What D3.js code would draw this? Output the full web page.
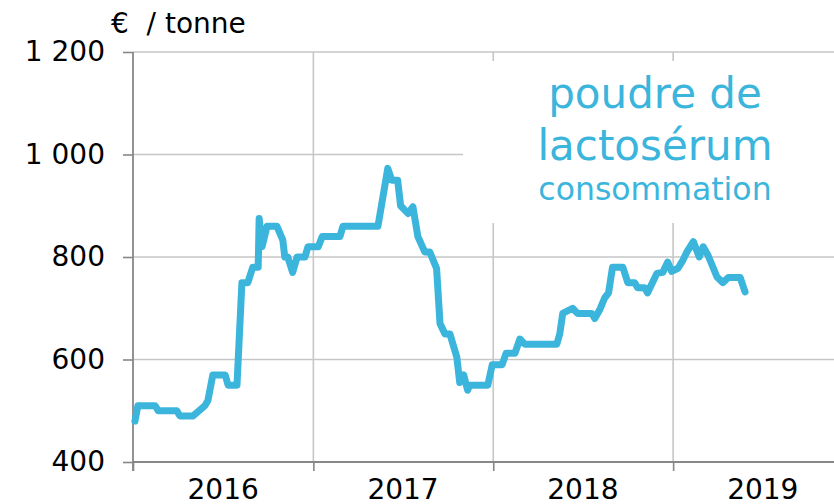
<!DOCTYPE html>
<html>
<head>
<meta charset="utf-8">
<script src="https://cdn.jsdelivr.net/npm/d3@7"></script>
<style>
  body { margin: 0; background: #fff; }
  svg { display: block; font-family: "DejaVu Sans", Verdana, sans-serif; }
</style>
</head>
<body>
<div id="chart"></div>
<script>
//
// data
//
var dates = [
  '2016-01-05', '2016-01-11', '2016-02-15', '2016-02-21', '2016-03-30', '2016-04-05',
  '2016-05-02', '2016-05-26', '2016-06-01', '2016-06-11', '2016-07-06', '2016-07-12',
  '2016-07-30', '2016-08-09', '2016-08-21', '2016-08-31', '2016-09-11', '2016-09-13',
  '2016-09-19', '2016-09-29', '2016-10-19', '2016-10-31', '2016-11-04', '2016-11-10',
  '2016-11-20', '2016-11-29', '2016-12-15', '2016-12-21',
  '2017-01-11', '2017-01-19', '2017-02-24', '2017-03-02', '2017-05-12', '2017-06-01',
  '2017-06-09', '2017-06-21', '2017-06-27', '2017-07-12', '2017-07-22', '2017-08-01',
  '2017-08-15', '2017-08-25', '2017-09-08', '2017-09-15', '2017-09-25', '2017-10-05',
  '2017-10-19', '2017-10-25', '2017-11-02', '2017-11-10', '2017-11-14', '2017-12-21',
  '2017-12-30',
  '2018-01-19', '2018-01-27', '2018-02-14', '2018-02-24', '2018-03-06', '2018-05-10',
  '2018-05-16', '2018-05-22', '2018-06-11', '2018-06-21', '2018-07-20', '2018-07-26',
  '2018-08-05', '2018-08-15', '2018-08-23', '2018-08-31', '2018-09-21', '2018-10-01',
  '2018-10-15', '2018-10-21', '2018-11-04', '2018-11-10', '2018-11-29', '2018-12-11',
  '2018-12-21', '2018-12-29',
  '2019-01-11', '2019-01-21', '2019-01-29', '2019-02-11', '2019-02-23', '2019-03-03',
  '2019-03-13', '2019-03-31', '2019-04-12', '2019-04-23', '2019-05-17', '2019-05-27'
]
var prices = [
  480, 510, 510, 500, 500, 490,
  490, 510, 520, 570, 570, 550,
  550, 750, 750, 780, 780, 875,
  820, 860, 860, 833, 800, 800,
  770, 800, 800, 820,
  820, 840, 840, 860, 860, 973,
  950, 950, 900, 885, 898, 840,
  810, 810, 778, 670, 650, 650,
  605, 555, 570, 540, 550, 550,
  590,
  590, 612, 612, 640, 630, 630,
  650, 690, 700, 690, 690, 680,
  697, 720, 730, 780, 780, 750,
  750, 740, 740, 730, 768, 770,
  790, 772,
  778, 794, 810, 830, 800, 820,
  803, 761, 750, 760, 760, 732
]
var years = [2016, 2017, 2018, 2019]
var yTicks = [400, 600, 800, 1000, 1200]
var unitLabel = '€  / tonne'
var titleLines = ['poudre de', 'lactosérum']
var subtitle = 'consommation'
//
// layout
//
var width = 834, height = 504
var plotLeft = 133, plotTop = 52, plotBottom = 462
var blue = '#3bb5dc'
var axisColor = '#878787'
var gridColor = '#c6c6c6'

var parse = d3.timeParse('%Y-%m-%d')
var data = dates.map(function(d, i) { return {date: parse(d), value: prices[i]} })

var x = d3.scaleTime()
  .domain([new Date(2016, 0, 1), new Date(2020, 0, 1)])
  .range([plotLeft, plotLeft + 4 * 180])
var y = d3.scaleLinear()
  .domain([400, 1200])
  .range([plotBottom, plotTop])

var svg = d3.select('#chart').append('svg')
  .attr('width', width)
  .attr('height', height)

// gridlines
var yearStarts = years.map(function(yr) { return new Date(yr, 0, 1) })
svg.append('g').selectAll('line')
  .data(yTicks.slice(1))
  .enter().append('line')
  .attr('x1', plotLeft).attr('x2', width)
  .attr('y1', function(d) { return y(d) }).attr('y2', function(d) { return y(d) })
  .attr('stroke', gridColor).attr('stroke-width', 1.6)
svg.append('g').selectAll('line')
  .data(yearStarts.slice(1))
  .enter().append('line')
  .attr('x1', function(d) { return x(d) }).attr('x2', function(d) { return x(d) })
  .attr('y1', plotTop).attr('y2', plotBottom)
  .attr('stroke', gridColor).attr('stroke-width', 1.6)

// white box behind the title
svg.append('rect')
  .attr('x', 463).attr('y', 61)
  .attr('width', width - 463).attr('height', 162)
  .attr('fill', '#fff')

// axes
var fmt = d3.formatLocale({decimal: ',', thousands: ' ', grouping: [3], currency: ['', ' €']}).format(',')
var yAxis = svg.append('g')
  .attr('transform', 'translate(' + plotLeft + ',0)')
  .call(d3.axisLeft(y).tickValues(yTicks).tickFormat(fmt).tickSize(10).tickPadding(18))
yAxis.select('.domain').remove()
yAxis.selectAll('line').attr('stroke', axisColor).attr('stroke-width', 1.6)
yAxis.selectAll('text')
  .attr('fill', '#000')
  .style('font-size', '28px')
  .style('font-family', '"DejaVu Sans", Verdana, sans-serif')

svg.append('line')
  .attr('x1', plotLeft).attr('x2', plotLeft)
  .attr('y1', plotTop).attr('y2', plotBottom + 9)
  .attr('stroke', axisColor).attr('stroke-width', 1.8)

var xAxis = svg.append('g')
  .attr('transform', 'translate(0,' + plotBottom + ')')
  .call(d3.axisBottom(x).tickValues(yearStarts).tickFormat('').tickSize(9).tickSizeOuter(0))
xAxis.select('.domain').attr('stroke', axisColor).attr('stroke-width', 1.8)
  .attr('d', 'M' + plotLeft + ',0H' + width)
xAxis.selectAll('line').attr('stroke', axisColor).attr('stroke-width', 1.6)

svg.append('g').selectAll('text')
  .data(years)
  .enter().append('text')
  .attr('x', function(d) { return x(new Date(d, 6, 2)) })
  .attr('y', 499)
  .attr('text-anchor', 'middle')
  .style('font-size', '28px')
  .text(function(d) { return d })

// unit
svg.append('text')
  .attr('x', 111).attr('y', 33)
  .style('font-size', '28px')
  .style('white-space', 'pre')
  .text(unitLabel)

// line
var line = d3.line()
  .x(function(d) { return x(d.date) })
  .y(function(d) { return y(d.value) })
svg.append('path')
  .attr('d', line(data))
  .attr('fill', 'none')
  .attr('stroke', blue)
  .attr('stroke-width', 7)
  .attr('stroke-linejoin', 'round')
  .attr('stroke-linecap', 'round')

// title
svg.append('g').selectAll('text')
  .data(titleLines)
  .enter().append('text')
  .attr('x', 655)
  .attr('y', function(d, i) { return 108 + i * 52 })
  .attr('text-anchor', 'middle')
  .attr('fill', blue)
  .style('font-size', '42px')
  .text(function(d) { return d })
svg.append('text')
  .attr('x', 655).attr('y', 200)
  .attr('text-anchor', 'middle')
  .attr('fill', blue)
  .style('font-size', '31.5px')
  .text(subtitle)
</script>
</body>
</html>
